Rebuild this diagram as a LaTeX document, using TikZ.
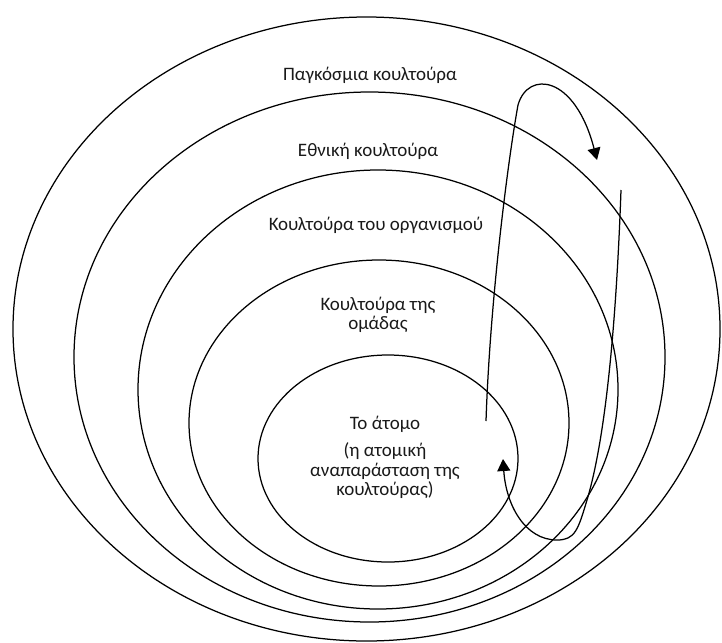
\documentclass[tikz,border=0pt]{standalone}
\usepackage{fontspec}
\setmainfont{Carlito}
\usetikzlibrary{arrows.meta}
\begin{document}
\begin{tikzpicture}[x=1pt,y=-1pt,
  ring/.style={draw=black,line width=1.25pt},
  lbl/.style={font=\fontsize{19}{19.5}\selectfont,align=center,inner sep=0pt,text=black!90},
  flow/.style={draw=black,line width=1.25pt},
  tip/.style={-{Triangle[width=13pt,length=12pt]}}]
\useasboundingbox (0,0) rectangle (722,642);
% nested ellipses
\draw[ring] (366.5,329) ellipse [x radius=353.5pt, y radius=312pt];
\draw[ring] (369.5,357) ellipse [x radius=295.5pt, y radius=265pt];
\draw[ring] (378,389.5) ellipse [x radius=240pt, y radius=219.5pt];
\draw[ring] (379,423) ellipse [x radius=190pt, y radius=163pt];
\draw[ring] (388,458.5) ellipse [x radius=130pt, y radius=103.5pt];
% labels
\node[lbl] (world) at (370,75) {Παγκόσμια κουλτούρα};
\node[lbl] (nation) at (368,151) {Εθνική κουλτούρα};
\node[lbl] (org) at (376,225) {Κουλτούρα του οργανισμού};
\node[lbl] (group) at (378,315) {Κουλτούρα της\\ομάδας};
\node[lbl] (indiv) at (385,424) {Το άτομο};
\node[lbl] (repr) at (385,471) {(η ατομική\\αναπαράσταση της\\κουλτούρας)};
% arrows
\coordinate (a1s) at (486,421);
\coordinate (a1e) at (597,160);
\coordinate (a2s) at (621,190);
\coordinate (a2e) at (503,459);
\draw[flow,tip] (a1s) .. controls (490,300) and (508,160) .. (518,105)
  .. controls (528,70) and (575,75) .. (a1e);
\draw[flow,tip] (a2s) .. controls (616,330) and (605,440) .. (587,500)
  .. controls (578,530) and (575,540) .. (557,540)
  .. controls (525,540) and (506,505) .. (a2e);
\end{tikzpicture}
\end{document}
